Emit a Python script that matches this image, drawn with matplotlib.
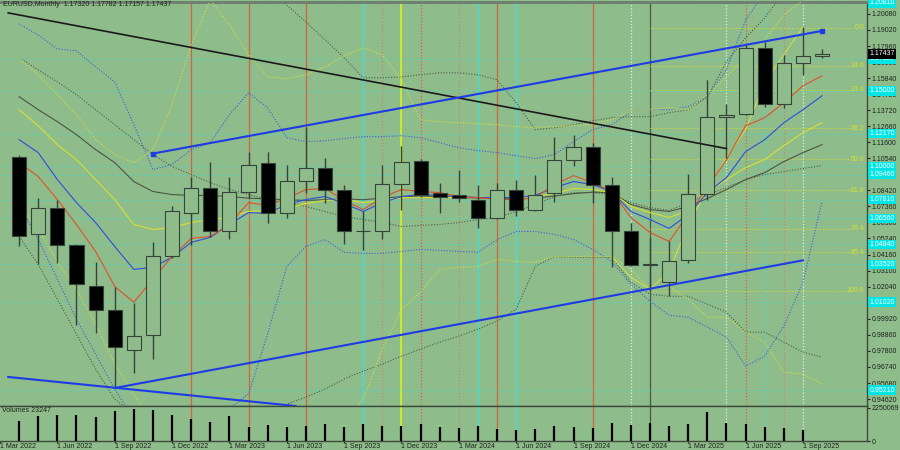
import matplotlib
matplotlib.use('Agg')
import matplotlib.pyplot as plt
from matplotlib.patches import Rectangle

# Monthly candles, Apr 2022 .. Oct 2025
opens = [1.1065, 1.0550, 1.0728, 1.0478, 1.0207, 1.0049, 0.9785, 0.9884, 1.0405, 1.0695,
         1.0860, 1.0570, 1.0834, 1.1025, 1.0689, 1.0906, 1.0992, 1.0841, 1.0570, 1.0570,
         1.0887, 1.1038, 1.0821, 1.0808, 1.0781, 1.0662, 1.0841, 1.0715, 1.0821, 1.1045,
         1.1131, 1.0874, 1.0570, 1.0350, 1.0234, 1.0378, 1.0817, 1.1329, 1.1349, 1.1784,
         1.1414, 1.1685, 1.17320]
highs = [1.1078, 1.0788, 1.0775, 1.0485, 1.0366, 1.0201, 1.0095, 1.0498, 1.0735, 1.0933,
         1.1032, 1.0933, 1.1098, 1.1092, 1.1012, 1.1263, 1.1058, 1.0880, 1.0702, 1.1012,
         1.1137, 1.1046, 1.0893, 1.0979, 1.0880, 1.0893, 1.0913, 1.0946, 1.1197, 1.1210,
         1.1153, 1.0933, 1.0629, 1.0530, 1.0504, 1.0953, 1.1573, 1.1414, 1.1804, 1.1823,
         1.1738, 1.1922, 1.17782]
lows = [1.0471, 1.0352, 1.0359, 0.9950, 0.9897, 0.9535, 0.9634, 0.9726, 1.0393, 1.0483,
        1.0533, 1.0517, 1.0788, 1.0629, 1.0662, 1.0827, 1.0761, 1.0484, 1.0445, 1.0517,
        1.0715, 1.0795, 1.0695, 1.0767, 1.0596, 1.0650, 1.0669, 1.0702, 1.0768, 1.1000,
        1.0761, 1.0332, 1.0339, 1.0178, 1.0141, 1.0360, 1.0778, 1.1058, 1.1340, 1.1395,
        1.1388, 1.1606, 1.17157]
closes = [1.0537, 1.0728, 1.0478, 1.0221, 1.0049, 0.9805, 0.9878, 1.0405, 1.0702, 1.0860,
          1.0570, 1.0834, 1.1012, 1.0689, 1.0906, 1.0992, 1.0841, 1.0570, 1.0576, 1.0887,
          1.1032, 1.0814, 1.0801, 1.0794, 1.0662, 1.0847, 1.0709, 1.0808, 1.1045, 1.1131,
          1.0880, 1.0570, 1.0346, 1.0355, 1.0372, 1.0817, 1.1329, 1.1342, 1.1784, 1.1414,
          1.1685, 1.1731, 1.17437]
volumes = [1390000, 1720000, 1790000, 1790000, 1650000, 2050000, 2180000, 2120000, 1790000,
           1520000, 1320000, 1720000, 930000, 1060000, 930000, 990000, 1130000, 930000,
           1130000, 990000, 990000, 1190000, 930000, 860000, 990000, 790000, 730000,
           790000, 990000, 930000, 860000, 1260000, 1060000, 1260000, 990000, 1190000,
           1990000, 1260000, 1130000, 930000, 860000, 730000, 23247]

# Indicator lines
ma_red = [1.1025, 1.0933, 1.0781, 1.0616, 1.0438, 1.0207, 1.0102, 1.0254, 1.0405, 1.0524,
          1.0537, 1.0616, 1.0761, 1.0742, 1.0788, 1.0847, 1.0854, 1.0775, 1.0715, 1.0794,
          1.0847, 1.0834, 1.0827, 1.0801, 1.0794, 1.0781, 1.0781, 1.0794, 1.0880, 1.0939,
          1.0893, 1.0834, 1.0662, 1.0563, 1.0504, 1.0682, 1.0860, 1.1045, 1.1269, 1.1322,
          1.1421, 1.1533, 1.1599]
ma_blue = [1.1177, 1.1091, 1.0913, 1.0761, 1.0629, 1.0471, 1.0319, 1.0333, 1.0399, 1.0498,
           1.0531, 1.0616, 1.0695, 1.0689, 1.0748, 1.0781, 1.0801, 1.0755, 1.0702, 1.0761,
           1.0801, 1.0814, 1.0808, 1.0801, 1.0794, 1.0794, 1.0794, 1.0808, 1.0860, 1.0900,
           1.0880, 1.0834, 1.0702, 1.0649, 1.0590, 1.0682, 1.0827, 1.0926, 1.1098, 1.1177,
           1.1289, 1.1375, 1.1467]
ma_yellow = [1.1375, 1.1269, 1.1144, 1.1045, 1.0913, 1.0781, 1.0616, 1.0583, 1.0596, 1.0629,
             1.0649, 1.0662, 1.0702, 1.0709, 1.0722, 1.0755, 1.0775, 1.0781, 1.0761, 1.0775,
             1.0794, 1.0794, 1.0794, 1.0794, 1.0794, 1.0794, 1.0794, 1.0801, 1.0821, 1.0854,
             1.0847, 1.0827, 1.0735, 1.0695, 1.0662, 1.0709, 1.0834, 1.0913, 1.0992, 1.1045,
             1.1137, 1.1223, 1.1289]
ma_dark = [1.1461, 1.1375, 1.1296, 1.1210, 1.1111, 1.1025, 1.0900, 1.0834, 1.0814, 1.0808,
           1.0808, 1.0801, 1.0790, 1.0785, 1.0780, 1.0775, 1.0780, 1.0785, 1.0780, 1.0790,
           1.0800, 1.0805, 1.0800, 1.0795, 1.0790, 1.0790, 1.0785, 1.0790, 1.0805, 1.0820,
           1.0830, 1.0827, 1.0748, 1.0715, 1.0702, 1.0735, 1.0788, 1.0847, 1.0913, 1.0959,
           1.1032, 1.1091, 1.1144]
band_blue_up = [1.1942, 1.1869, 1.1777, 1.1764, 1.1658, 1.1559, 1.1276, 1.0979, 1.1012, 1.1111,
                1.1157, 1.1342, 1.1487, 1.1388, 1.1190, 1.1164, 1.1170, 1.1184, 1.1197, 1.1197,
                1.1203, 1.1190, 1.1157, 1.1124, 1.1104, 1.1091, 1.1071, 1.1052, 1.1078, 1.1164,
                1.1243, 1.1276, 1.1362, 1.1375, 1.1375, 1.1395, 1.1461, 1.1639, 1.1968, 1.2150,
                1.2200, 1.2250, 1.2300]
band_blue_lo = [1.0748, 1.0517, 1.0254, 0.9990, 0.9759, 0.9528, 0.9330, 0.9250, 0.9250, 0.9300,
                0.9350, 0.9400, 0.9495, 0.9891, 1.0339, 1.0471, 1.0517, 1.0432, 1.0425, 1.0425,
                1.0438, 1.0451, 1.0445, 1.0438, 1.0432, 1.0517, 1.0570, 1.0570, 1.0550, 1.0517,
                1.0451, 1.0372, 1.0221, 1.0108, 1.0016, 1.0003, 0.9937, 0.9871, 0.9680, 0.9746,
                0.9944, 1.0234, 1.0768]
gray_mid = [1.1718, 1.1639, 1.1559, 1.1474, 1.1375, 1.1276, 1.1177, 1.1078, 1.1000, 1.0946,
            1.0893, 1.0847, 1.0814, 1.0781, 1.0761, 1.0735, 1.0702, 1.0669, 1.0649, 1.0629,
            1.0603, 1.0610, 1.0616, 1.0629, 1.0649, 1.0662, 1.0702, 1.0748, 1.0801, 1.0827,
            1.0827, 1.0814, 1.0761, 1.0728, 1.0709, 1.0761, 1.0814, 1.0860, 1.0913, 1.0946,
            1.0966, 1.0986, 1.1005]
gray_up = [1.2300, 1.2300, 1.2300, 1.2300, 1.2300, 1.2300, 1.2300, 1.2300, 1.2300, 1.2300,
           1.2300, 1.2300, 1.2300, 1.2200, 1.2067, 1.1955, 1.1837, 1.1718, 1.1586, 1.1586,
           1.1592, 1.1606, 1.1619, 1.1619, 1.1606, 1.1573, 1.1421, 1.1243, 1.1256, 1.1276,
           1.1302, 1.1322, 1.1329, 1.1329, 1.1355, 1.1375, 1.1461, 1.1691, 1.1850, 1.1982,
           1.2150, 1.2250, 1.2300]
gray_lo = [1.0537, 1.0352, 1.0122, 0.9891, 0.9660, 0.9462, 0.9363, 0.9300, 0.9300, 0.9300,
           0.9300, 0.9300, 0.9300, 0.9300, 0.9429, 0.9475, 0.9528, 0.9594, 0.9647, 0.9693,
           0.9746, 0.9792, 0.9838, 0.9878, 0.9924, 0.9977, 1.0056, 1.0339, 1.0405, 1.0399,
           1.0399, 1.0399, 1.0234, 1.0155, 1.0141, 1.0141, 1.0089, 1.0036, 0.9904, 0.9904,
           0.9838, 0.9772, 0.9739]
yellow_up = [1.1718, 1.1606, 1.1474, 1.1342, 1.1177, 1.1078, 1.1025, 1.1111, 1.1408, 1.1800,
             1.2100, 1.1935, 1.1738, 1.1592, 1.1579, 1.1606, 1.1658, 1.1731, 1.1784, 1.1738,
             1.1573, 1.1309, 1.1296, 1.1289, 1.1282, 1.1276, 1.1263, 1.1256, 1.1263, 1.1270,
             1.1276, 1.1309, 1.1362, 1.1375, 1.1388, 1.1375, 1.1474, 1.1592, 1.1724, 1.1837,
             1.2001, 1.2100, 1.2200]
yellow_lo = [1.0748, 1.0583, 1.0372, 1.0188, 0.9957, 0.9693, 0.9495, 0.9300, 0.9300, 0.9300,
             0.9300, 0.9300, 0.9300, 0.9300, 0.9300, 0.9300, 0.9300, 0.9300, 0.9462, 0.9792,
             1.0056, 1.0168, 1.0319, 1.0332, 1.0339, 1.0385, 1.0372, 1.0366, 1.0405, 1.0405,
             1.0405, 1.0405, 1.0319, 1.0188, 1.0207, 1.0122, 1.0003, 1.0003, 0.9904, 0.9838,
             0.9640, 0.9627, 0.9561]
yellow_fast_idx = [31, 32, 33, 34, 35, 36, 37, 38, 39, 40, 41]
yellow_fast = [1.0399, 1.0267, 1.0188, 1.0306, 1.0616, 1.0847, 1.1058, 1.1243, 1.1553, 1.1738, 1.1922]

# Trend lines: (bar index, price) pairs
trend_black = [(-0.57, 1.2015), (37, 1.1118)]
trend_blue_up = [(7, 1.1085), (42, 1.1896)]
trend_blue_lo = [(5, 0.9535), (41, 1.0379)]
trend_blue_left = [(-0.57, 0.9608), (14.46, 0.9416)]

# Vertical marker lines: bar index, colour, style
vlines_idx = [9, 12, 15, 18, 19, 20, 21, 23, 24, 25, 26, 30, 32, 33, 37, 38, 39, 40, 41]
vlines_col = ['red', 'red', 'red', 'cyan', 'tan', 'yellow', 'red', 'tan', 'cyan', 'red',
              'cyan', 'red', 'white', 'dark', 'white', 'red', 'cyan', 'tan', 'white']
vlines_dot = [False, False, False, False, True, False, True, True, False, False,
              False, False, True, False, True, True, True, True, True]

# Horizontal levels with their right-axis price boxes
hlevels = [1.2081, 1.1711, 1.1500, 1.1217, 1.1000, 1.0946, 1.0781, 1.0656, 1.0484,
           1.0352, 1.0102, 0.9521]
price_ticks = [1.20080, 1.19020, 1.17960, 1.16900, 1.15840, 1.14780, 1.13720, 1.12660,
               1.11600, 1.10540, 1.09480, 1.08420, 1.07360, 1.06300, 1.05240, 1.04160,
               1.03100, 1.02040, 1.00980, 0.99920, 0.98860, 0.97800, 0.96740, 0.95680,
               0.94620]
current_price = 1.17437

# Fibonacci retracement Jan 2025 low -> Sep 2025 high
fib_lo = 1.0178
fib_hi = 1.1918
fib_levels = [0.0, 14.6, 23.6, 38.2, 50.0, 61.8, 76.4, 85.4, 100.0]

date_idx = [-1, 2, 5, 8, 11, 14, 17, 20, 23, 26, 29, 32, 35, 38, 41]
date_labels = ['1 Mar 2022', '1 Jun 2022', '1 Sep 2022', '1 Dec 2022', '1 Mar 2023',
               '1 Jun 2023', '1 Sep 2023', '1 Dec 2023', '1 Mar 2024', '1 Jun 2024',
               '1 Sep 2024', '1 Dec 2024', '1 Mar 2025', '1 Jun 2025', '1 Sep 2025']

BG = '#8FBC8B'
EDGE = '#36433A'
TXT = '#1E241E'
FS = 5.0
COLORS = {'red': '#D2643E', 'tan': '#C48A6C', 'cyan': '#3EE0E0', 'yellow': '#D8F020',
          'white': '#E6EEE6', 'dark': '#4A5646'}
DOT = (0, (1, 1.5))

plt.rcParams['font.family'] = ['Liberation Sans', 'DejaVu Sans']
fig = plt.figure(figsize=(9, 4.5), dpi=100, facecolor=BG)
ax = fig.add_axes([0, 1 - 406 / 450, 867 / 900, 404 / 450], facecolor=BG)
axv = fig.add_axes([0, 1 - 441 / 450, 867 / 900, 35 / 450], facecolor=BG, sharex=ax)

n = len(closes)
xs = list(range(n))

# Vertical lines on both panels
for i, c, d in zip(vlines_idx, vlines_col, vlines_dot):
    ls = DOT if d else '-'
    lw = 1.2 if c == 'yellow' else 0.9
    for a in (ax, axv):
        a.axvline(i, color=COLORS[c], ls=ls, lw=lw, zorder=1)

# Horizontal cyan levels
for p in hlevels:
    ax.axhline(p, color='#46D6C6', ls=DOT, lw=0.7, zorder=1)

# Bands and moving averages
ax.plot(xs, band_blue_up, color='#3A5FE0', ls=DOT, lw=0.8, zorder=3)
ax.plot(xs, band_blue_lo, color='#3A5FE0', ls=DOT, lw=0.8, zorder=3)
ax.plot(xs, gray_up, color='#4E5E4A', ls=DOT, lw=0.8, zorder=3)
ax.plot(xs, gray_mid, color='#4E5E4A', ls=DOT, lw=0.8, zorder=3)
ax.plot(xs, gray_lo, color='#4E5E4A', ls=DOT, lw=0.8, zorder=3)
ax.plot(xs, yellow_up, color='#D6E040', ls=DOT, lw=0.8, zorder=3)
ax.plot(xs, yellow_lo, color='#D6E040', ls=DOT, lw=0.8, zorder=3)
ax.plot(yellow_fast_idx, yellow_fast, color='#D6E040', lw=0.7, zorder=3)
ax.plot(xs, ma_dark, color='#4A5646', lw=0.8, zorder=4)
ax.plot(xs, ma_yellow, color='#D8E030', lw=0.8, zorder=4)
ax.plot(xs, ma_blue, color='#2A4FE0', lw=0.8, zorder=4)
ax.plot(xs, ma_red, color='#E0502A', lw=0.8, zorder=4)

# Candles
for i in xs:
    o, h, l, c = opens[i], highs[i], lows[i], closes[i]
    ax.vlines(i, l, h, color=EDGE, lw=1.0, zorder=5)
    face = 'black' if c < o else BG
    ax.add_patch(Rectangle((i - 0.37, min(o, c)), 0.74, max(abs(c - o), 1e-5),
                           facecolor=face, edgecolor=EDGE, lw=0.8, zorder=6))

# Trend lines
for line, col, lw in [(trend_black, '#1A1A1A', 1.2), (trend_blue_up, '#1E3CE6', 1.5),
                      (trend_blue_lo, '#1E3CE6', 1.5), (trend_blue_left, '#1E3CE6', 1.5)]:
    ax.plot([line[0][0], line[1][0]], [line[0][1], line[1][1]], color=col, lw=lw, zorder=7)
ax.plot([trend_blue_up[0][0], trend_blue_up[1][0]], [trend_blue_up[0][1], trend_blue_up[1][1]],
        ls='none', marker='s', ms=2.5, color='#1E3CE6', zorder=7)

# Fibonacci levels
for lvl in fib_levels:
    p = fib_hi - lvl / 100 * (fib_hi - fib_lo)
    ax.hlines(p, 33, 43.6, color='#D0DC3A', ls=DOT, lw=0.8, zorder=2)
    ax.text(44.2, p, f'{lvl:.1f}', color='#D8E030', fontsize=FS, ha='right', va='center', zorder=8)

ax.set_xlim(-0.57, 44.35)
ax.set_ylim(0.9416, 1.2087)

# Price axis
ax.yaxis.tick_right()
ax.set_yticks(price_ticks)
ax.set_yticklabels([f'{p:.5f}' for p in price_ticks])
ax.tick_params(axis='y', labelsize=FS, length=2, pad=1.5, colors=TXT)
ax.tick_params(axis='x', bottom=False, labelbottom=False)
for p in hlevels:
    ax.text(1.003, p, f'{p:.5f}', transform=ax.get_yaxis_transform(), fontsize=FS,
            color='white', va='center', ha='left', clip_on=False, zorder=10,
            bbox=dict(boxstyle='square,pad=0.2', fc='#00E6E6', ec='none'))
ax.text(1.003, current_price, f'{current_price:.5f}', transform=ax.get_yaxis_transform(),
        fontsize=FS, color='white', va='center', ha='left', clip_on=False, zorder=11,
        bbox=dict(boxstyle='square,pad=0.2', fc='black', ec='none'))

for a in (ax, axv):
    a.spines['left'].set_visible(False)
    for s in ['right', 'bottom', 'top']:
        a.spines[s].set_color('#3E4A3E')
        a.spines[s].set_linewidth(1.0)
ax.spines['top'].set_color('#6E7E6E')
ax.spines['top'].set_linewidth(2)

fig.text(0.003, 1 - 5 / 450, 'EURUSD,Monthly  1.17320 1.17782 1.17157 1.17437',
         fontsize=FS, color=TXT, va='center', ha='left')

# Volume panel
axv.vlines(xs, 0, volumes, color='black', lw=1.6, zorder=3)
axv.set_ylim(0, 2250069 * 35 / 33)
axv.yaxis.tick_right()
axv.set_yticks([0, 2250069])
axv.set_yticklabels(['0', '2250069'])
axv.tick_params(axis='y', labelsize=FS, length=2, pad=1.5, colors=TXT)
axv.set_xticks(date_idx)
axv.set_xticklabels(date_labels, ha='left')
axv.tick_params(axis='x', labelsize=FS, length=1.5, pad=0.2, colors=TXT)
axv.text(0.002, 0.88, 'Volumes 23247', transform=axv.transAxes, fontsize=FS,
         color=TXT, va='center', ha='left')

fig.savefig('out.png', dpi=100, facecolor=BG)
